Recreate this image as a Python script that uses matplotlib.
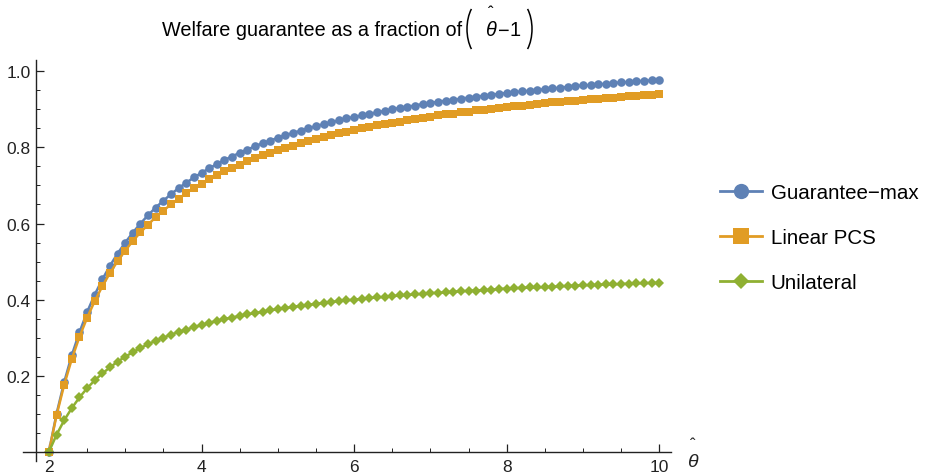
import numpy as np
import matplotlib.pyplot as plt
from matplotlib.lines import Line2D
from matplotlib.patches import Arc
from matplotlib.transforms import IdentityTransform

plt.rcParams['font.family'] = ['Liberation Sans', 'DejaVu Sans']

# theta_hat = 2.0, 2.1, ..., 10.0
theta = np.round(np.arange(2.0, 10.001, 0.1), 1)

guarantee_max = [
    0.000, 0.100, 0.183, 0.254, 0.314, 0.367, 0.413, 0.453, 0.489, 0.521, 0.550,
    0.576, 0.600, 0.622, 0.642, 0.660, 0.677, 0.693, 0.707, 0.721, 0.733,
    0.745, 0.756, 0.767, 0.776, 0.786, 0.794, 0.803, 0.811, 0.818, 0.825,
    0.832, 0.838, 0.844, 0.850, 0.856, 0.861, 0.866, 0.871, 0.876, 0.880,
    0.884, 0.888, 0.892, 0.896, 0.900, 0.904, 0.907, 0.910, 0.914, 0.917,
    0.920, 0.923, 0.925, 0.928, 0.931, 0.933, 0.936, 0.938, 0.941, 0.943,
    0.945, 0.947, 0.949, 0.951, 0.953, 0.955, 0.957, 0.959, 0.961, 0.963,
    0.964, 0.966, 0.967, 0.969, 0.971, 0.972, 0.974, 0.975, 0.976, 0.978,
]

linear_pcs = [
    0.000, 0.096, 0.176, 0.244, 0.302, 0.352, 0.396, 0.435, 0.470, 0.501, 0.529,
    0.554, 0.577, 0.597, 0.617, 0.634, 0.650, 0.665, 0.680, 0.693, 0.705,
    0.716, 0.727, 0.737, 0.746, 0.755, 0.763, 0.771, 0.779, 0.786, 0.793,
    0.799, 0.805, 0.811, 0.817, 0.822, 0.827, 0.832, 0.837, 0.841, 0.846,
    0.850, 0.854, 0.858, 0.861, 0.865, 0.868, 0.872, 0.875, 0.878, 0.881,
    0.884, 0.887, 0.889, 0.892, 0.894, 0.897, 0.899, 0.902, 0.904, 0.906,
    0.908, 0.910, 0.912, 0.914, 0.916, 0.918, 0.920, 0.922, 0.923, 0.925,
    0.926, 0.928, 0.930, 0.931, 0.933, 0.934, 0.936, 0.937, 0.938, 0.940,
]

unilateral = [
    0.000, 0.045, 0.083, 0.115, 0.143, 0.167, 0.188, 0.206, 0.222, 0.237, 0.250,
    0.262, 0.273, 0.283, 0.292, 0.300, 0.308, 0.315, 0.321, 0.328, 0.333,
    0.339, 0.344, 0.349, 0.353, 0.357, 0.361, 0.365, 0.368, 0.372, 0.375,
    0.378, 0.381, 0.384, 0.386, 0.389, 0.391, 0.394, 0.396, 0.398, 0.400,
    0.402, 0.404, 0.406, 0.407, 0.409, 0.411, 0.412, 0.414, 0.415, 0.417,
    0.418, 0.419, 0.421, 0.422, 0.423, 0.424, 0.425, 0.426, 0.428, 0.429,
    0.430, 0.431, 0.432, 0.432, 0.433, 0.434, 0.435, 0.436, 0.437, 0.438,
    0.438, 0.439, 0.440, 0.440, 0.441, 0.442, 0.443, 0.443, 0.444, 0.444,
]

nombres = ["Guarantee\u2212max", "Linear PCS", "Unilateral"]
colores = ["#5E81B5", "#E19C24", "#8FB032"]
negro = "#222222"

W, H = 953, 477
fig = plt.figure(figsize=(W / 100, H / 100), dpi=100)
ax = fig.add_axes([0.0241, 0.0314, 0.6797, 0.841])

ax.plot(theta, guarantee_max, color=colores[0], lw=1.8, marker="o", ms=6.2, mew=0)
ax.plot(theta, linear_pcs, color=colores[1], lw=1.8, marker="s", ms=6.0, mew=0)
ax.plot(theta, unilateral, color=colores[2], lw=1.8, marker="D", ms=4.6, mew=0)

ax.set_xlim(1.66, 10.15)
ax.set_ylim(-0.024, 1.03)

for s in ["top", "right"]:
    ax.spines[s].set_visible(False)
ax.spines["left"].set_position(("data", 1.83))
ax.spines["bottom"].set_position(("data", 0))
for s in ["left", "bottom"]:
    ax.spines[s].set_linewidth(1.0)
    ax.spines[s].set_color(negro)

ax.set_xticks([2, 4, 6, 8, 10])
ax.set_xticks(np.arange(2.5, 10, 0.5), minor=True)
ax.set_yticks([0.2, 0.4, 0.6, 0.8, 1.0])
ax.set_yticks([0.05, 0.1, 0.15, 0.25, 0.3, 0.35, 0.45, 0.5, 0.55, 0.65, 0.7, 0.75,
               0.85, 0.9, 0.95], minor=True)
ax.set_yticklabels(["0.2", "0.4", "0.6", "0.8", "1.0"])
ax.tick_params(which="both", direction="in", color=negro, labelsize=12.5, labelcolor=negro)
ax.tick_params(which="major", length=5.5, width=0.9)
ax.tick_params(which="minor", length=3.2, width=0.7)
ax.tick_params(axis="y", which="major", pad=4)
ax.tick_params(axis="x", which="major", pad=5)

def px(x, y):
    # pixel (from top-left) -> figure fraction
    return x / W, 1 - y / H

# x axis label (theta hat)
fig.text(*px(692, 463), "\u03b8", fontsize=14, style="italic", ha="center", va="center", color=negro)
fig.text(*px(693, 446), "\u02c6", fontsize=12, ha="center", va="center", color=negro)

# title: Welfare guarantee as a fraction of (theta_hat - 1)
fig.text(*px(162, 36.5), "Welfare guarantee as a fraction of", fontsize=14.3,
         ha="left", va="baseline", color="black")
fig.text(*px(490, 36.5), "\u03b8", fontsize=14.3, style="italic", ha="center",
         va="baseline", color="black")
fig.text(*px(491, 13), "\u02c6", fontsize=12, ha="center", va="center", color="black")
fig.text(*px(503, 36.5), "\u2212", fontsize=14.3, ha="center", va="baseline", color="black")
fig.text(*px(515, 36.5), "1", fontsize=14.3, ha="center", va="baseline", color="black")
for cx, t1, t2 in [(483, 120, 240), (516, -60, 60)]:
    arco = Arc((cx, H - 30), 32, 58, theta1=t1, theta2=t2, lw=1.1, color="black",
               transform=IdentityTransform())
    fig.add_artist(arco)

handles = [
    Line2D([], [], color=colores[0], lw=2, marker="o", ms=11, mew=0),
    Line2D([], [], color=colores[1], lw=2, marker="s", ms=11, mew=0),
    Line2D([], [], color=colores[2], lw=2, marker="D", ms=8, mew=0),
]
fig.legend(handles, nombres, loc="center left", bbox_to_anchor=(0.7366, 0.5),
           frameon=False, fontsize=14.8, handlelength=2.0, labelspacing=1.25,
           handletextpad=0.45)

fig.savefig("out.png", dpi=100)
